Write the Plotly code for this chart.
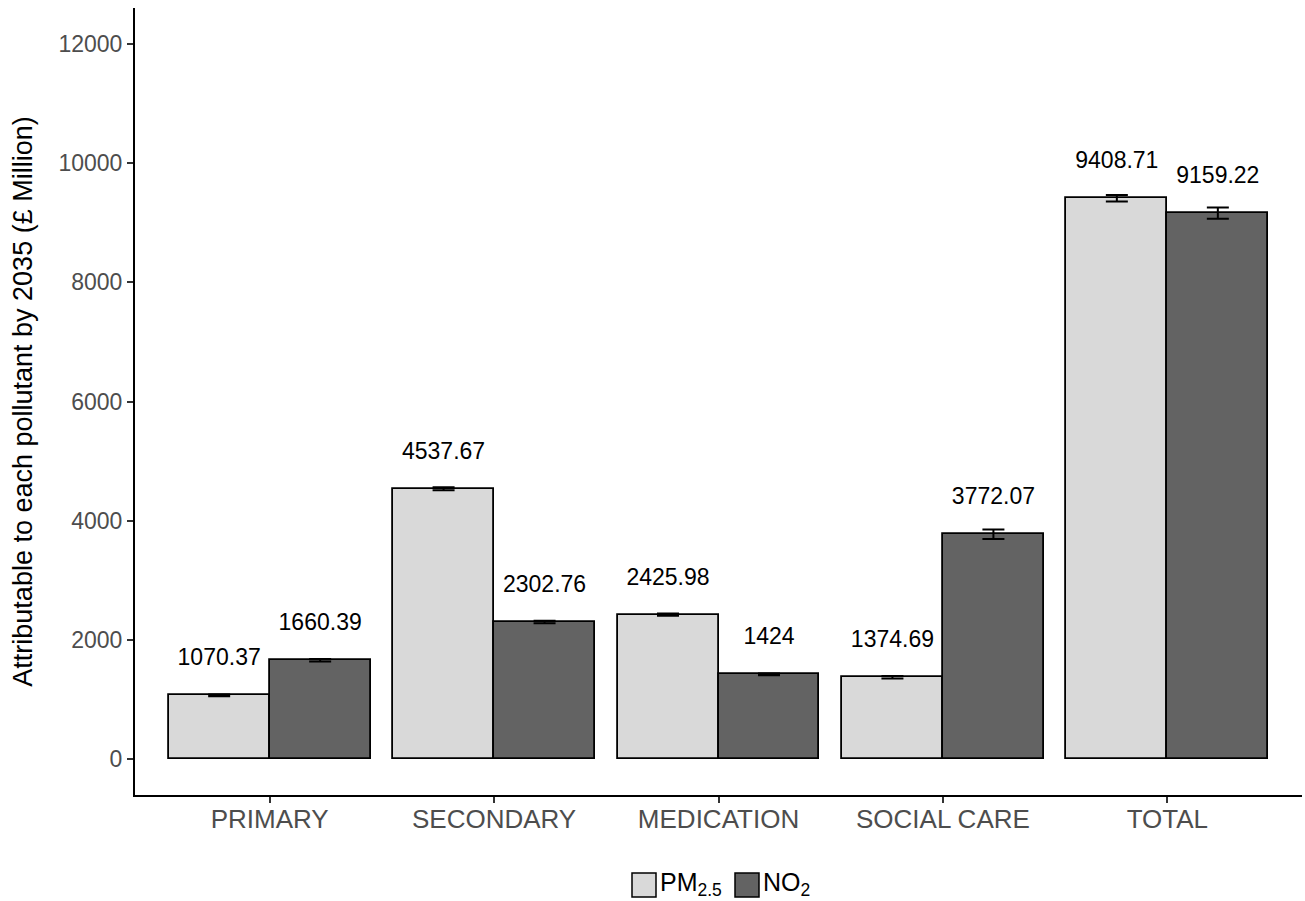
import plotly.graph_objects as go

categories = ["PRIMARY", "SECONDARY", "MEDICATION", "SOCIAL CARE", "TOTAL"]
pm25 = [1070.37, 4537.67, 2425.98, 1374.69, 9408.71]
no2 = [1660.39, 2302.76, 1424, 3772.07, 9159.22]
pm25_err = [15, 25, 20, 20, 55]
no2_err = [20, 20, 15, 80, 95]
pm25_labels = ["1070.37", "4537.67", "2425.98", "1374.69", "9408.71"]
no2_labels = ["1660.39", "2302.76", "1424", "3772.07", "9159.22"]
y_ticks = [0, 2000, 4000, 6000, 8000, 10000, 12000]
y_ticktext = ["0", "2000", "4000", "6000", "8000", "10000", "12000"]

LIGHT = "#D9D9D9"
DARK = "#636363"
FONT = "Liberation Sans, Arial, sans-serif"

W, H = 1305, 901
ML, MR, MT, MB = 135, 3, 8, 106
PW, PH = W - ML - MR, H - MT - MB

idx = list(range(1, len(categories) + 1))
off = 0.225
bw = 0.45
x_pm = [i - off for i in idx]
x_no = [i + off for i in idx]

fig = go.Figure()
fig.add_trace(go.Bar(
    x=x_pm, y=pm25, width=bw, name="PM<sub>2.5</sub>",
    marker=dict(color=LIGHT, line=dict(color="black", width=1.8)),
    error_y=dict(type="data", array=pm25_err, color="black", thickness=2, width=11),
    showlegend=False,
))
fig.add_trace(go.Bar(
    x=x_no, y=no2, width=bw, name="NO<sub>2</sub>",
    marker=dict(color=DARK, line=dict(color="black", width=1.8)),
    error_y=dict(type="data", array=no2_err, color="black", thickness=2, width=11),
    showlegend=False,
))
fig.add_trace(go.Scatter(
    x=x_pm + x_no, y=[v + 600 for v in pm25 + no2],
    text=pm25_labels + no2_labels, mode="text",
    textposition="middle center",
    textfont=dict(family=FONT, size=23, color="black"),
    showlegend=False, hoverinfo="skip",
))

# custom legend (ggplot style keys)
def px_to_paper_x(px):
    return (px - ML) / PW

def px_to_paper_y(py):
    return (H - MB - py) / PH

shapes = []
annotations = []
legend_items = [("PM<sub>2.5</sub>", LIGHT, 632), ("NO<sub>2</sub>", DARK, 735)]
for label, col, px in legend_items:
    shapes.append(dict(type="rect", xref="paper", yref="paper",
                       x0=px_to_paper_x(px), x1=px_to_paper_x(px + 24),
                       y0=px_to_paper_y(897), y1=px_to_paper_y(873),
                       fillcolor=col, line=dict(color="black", width=1.5)))
    annotations.append(dict(xref="paper", yref="paper",
                            x=px_to_paper_x(px + 26), y=px_to_paper_y(884),
                            text=label, showarrow=False, xanchor="left", yanchor="middle",
                            font=dict(family=FONT, size=25, color="black")))

fig.update_layout(
    width=W, height=H,
    margin=dict(l=ML, r=MR, t=MT, b=MB),
    plot_bgcolor="white", paper_bgcolor="white",
    font=dict(family=FONT, size=22, color="black"),
    bargap=0, shapes=shapes, annotations=annotations,
    xaxis=dict(
        range=[0.4, 5.6], tickvals=idx, ticktext=categories,
        showline=True, linecolor="black", linewidth=2,
        ticks="outside", ticklen=6, tickcolor="#333333", tickwidth=1.5,
        tickfont=dict(family=FONT, size=26, color="#4D4D4D"),
        ticklabelstandoff=-6,
        showgrid=False, zeroline=False,
    ),
    yaxis=dict(
        range=[-600, 12600], tickvals=y_ticks, ticktext=y_ticktext,
        showline=True, linecolor="black", linewidth=2,
        ticks="outside", ticklen=6, tickcolor="#333333", tickwidth=1.5,
        tickfont=dict(family=FONT, size=23, color="#4D4D4D"),
        showgrid=False, zeroline=False,
        title=dict(text="Attributable to each pollutant by 2035 (£ Million)",
                   font=dict(family=FONT, size=27, color="black"), standoff=18),
    ),
)

fig.write_html("out.html", config={"displayModeBar": False},
               post_script="document.body.style.margin='0';document.body.style.overflow='hidden';")
